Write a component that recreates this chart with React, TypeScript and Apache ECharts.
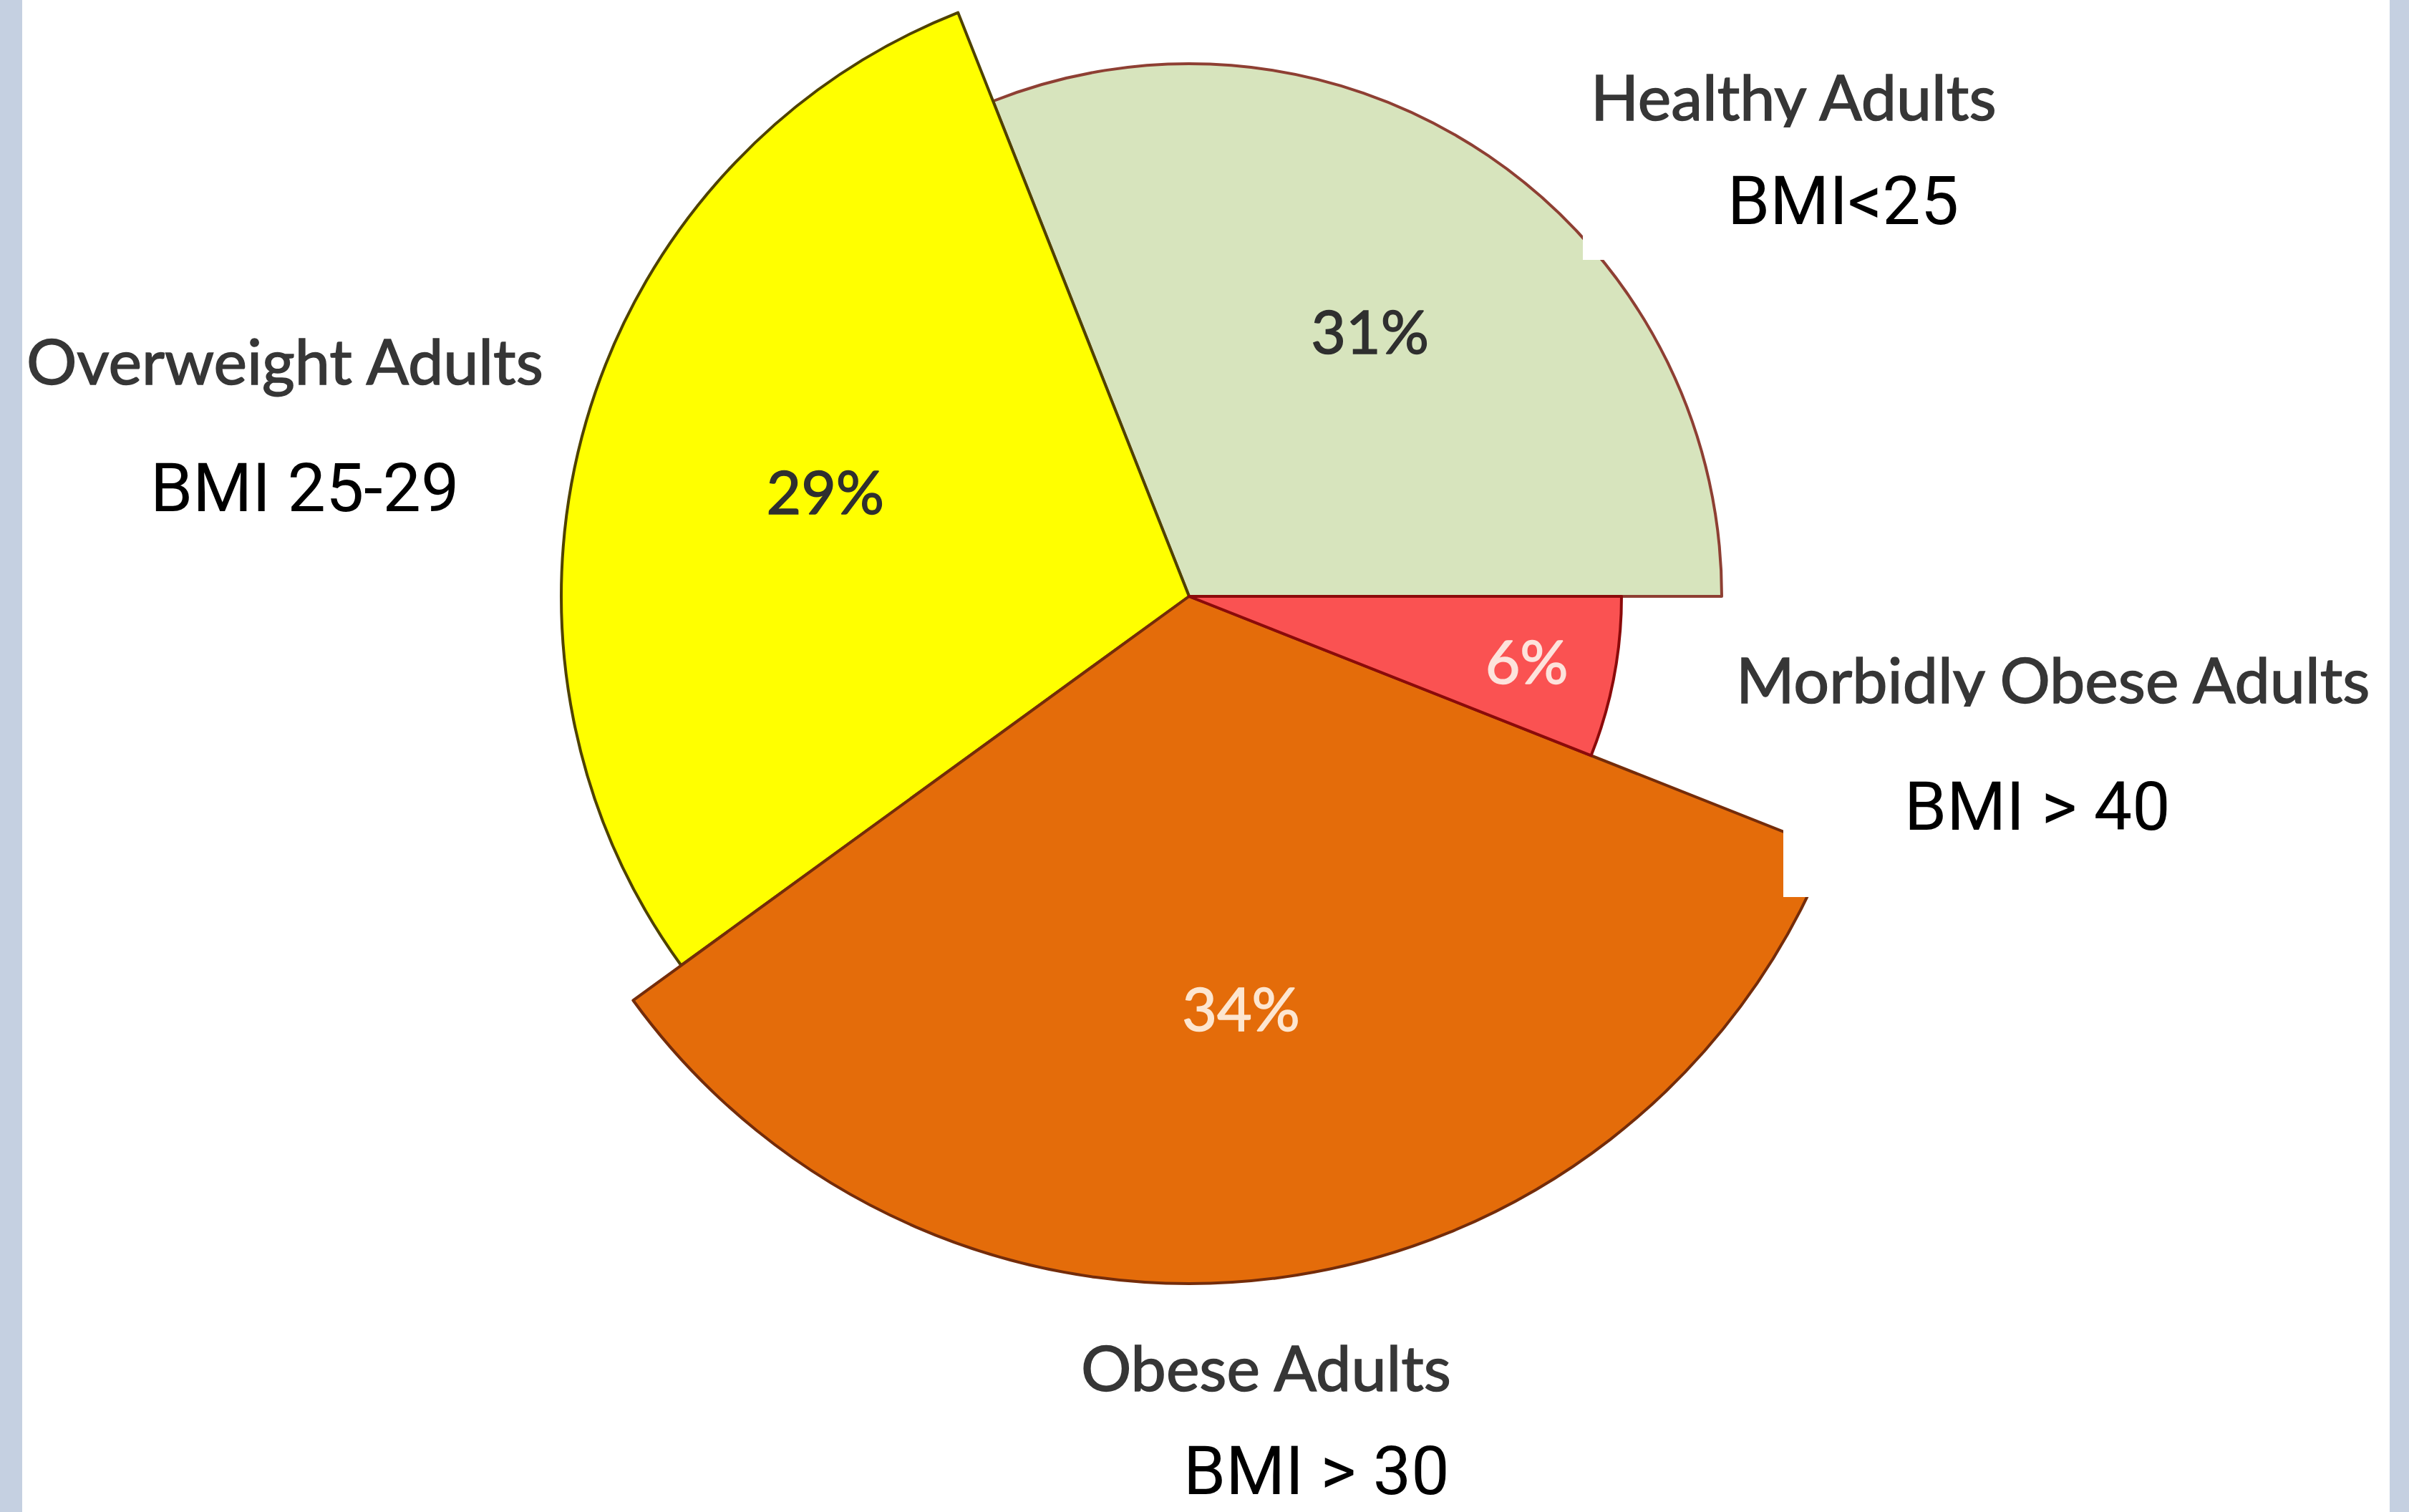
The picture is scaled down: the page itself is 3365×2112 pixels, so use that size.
import React, { useEffect, useRef } from "react";
import * as echarts from "echarts";

// Adult BMI groups and their share of the population (%)
const categories = ["Healthy Adults", "Overweight Adults", "Obese Adults", "Morbidly Obese Adults"];
const bmiRanges = ["BMI<25", "BMI 25-29", "BMI > 30", "BMI > 40"];
const shares = [31, 29, 34, 6];

// Per-slice styling, same order as categories
const sliceColors = ["#d7e4bd", "#ffff00", "#e46c0a", "#fa5252"];
const sliceBorders = ["#8e3f33", "#4f4200", "#742c0a", "#8b0a0a"];
const sliceRadii = [744, 877, 960, 604];
const labelRadiusRatio = [0.6, 0.6, 0.6, 0.79];
const pctColors = ["#2f2f2f", "#2f2f2f", "#fde6d0", "#fde3dc"];

// Where the category names and BMI ranges sit on the page
const namePos = [
  [2222, 134],
  [37, 503],
  [1510, 1909],
  [2425, 948],
];
const rangePos = [
  [2413, 280],
  [210, 681],
  [1653, 2054],
  [2660, 1126],
];

const W = 3365;
const H = 2112;
const CENTER = [1661, 833];
const TRANSPARENT = "rgba(0,0,0,0)";

function sliceSeries(k: number) {
  return {
    type: "pie",
    center: CENTER,
    radius: sliceRadii[k],
    startAngle: 0,
    clockwise: false,
    avoidLabelOverlap: false,
    silent: true,
    z: 2 + k,
    label: { show: false },
    labelLine: { show: false },
    emphasis: { disabled: true },
    data: categories.map((name, i) => ({
      name,
      value: shares[i],
      itemStyle:
        i === k
          ? { color: sliceColors[i], borderColor: sliceBorders[i], borderWidth: 4 }
          : { color: TRANSPARENT, borderWidth: 0 },
    })),
  };
}

// Invisible companion pie whose inside-label midpoint lands where the percentage sits
function labelSeries(k: number) {
  return {
    type: "pie",
    center: CENTER,
    radius: sliceRadii[k] * labelRadiusRatio[k] * 2,
    startAngle: 0,
    clockwise: false,
    avoidLabelOverlap: false,
    silent: true,
    z: 10,
    labelLine: { show: false },
    emphasis: { disabled: true },
    label: { show: false },
    data: categories.map((name, i) => ({
      name,
      value: shares[i],
      itemStyle: { color: TRANSPARENT, borderWidth: 0 },
      label:
        i === k
          ? {
              show: true,
              position: "inside",
              formatter: "{c}%",
              color: pctColors[i],
              textBorderColor: pctColors[i],
              textBorderWidth: 1.5,
              fontFamily: "Lato",
              fontSize: 84,
            }
          : { show: false },
    })),
  };
}

export default function App() {
  const ref = useRef<HTMLDivElement>(null);

  useEffect(() => {
    if (!ref.current) return;
    const chart = echarts.init(ref.current, undefined, { renderer: "svg" });

    const nameTexts = categories.map((name, i) => ({
      type: "text",
      z: 5,
      x: namePos[i][0],
      y: namePos[i][1],
      style: {
        text: name,
        fill: "#363636",
        stroke: "#363636",
        lineWidth: 1.5,
        font: "88px Lato",
        textAlign: "left",
        textVerticalAlign: "middle",
      },
    }));

    const rangeTexts = bmiRanges.map((r, i) => ({
      type: "text",
      z: 30,
      x: rangePos[i][0],
      y: rangePos[i][1],
      style: {
        text: r,
        fill: "#000000",
        font: "95px Roboto",
        textAlign: "left",
        textVerticalAlign: "middle",
      },
    }));

    chart.setOption({
      animation: false,
      backgroundColor: "#ffffff",
      series: [0, 1, 2, 3].map(sliceSeries).concat([0, 1, 2, 3].map(labelSeries) as any),
      graphic: {
        elements: [
          // side margins
          { type: "rect", z: 40, shape: { x: 0, y: 0, width: 31, height: H }, style: { fill: "#c5d0e1" } },
          { type: "rect", z: 40, shape: { x: 3338, y: 0, width: W - 3338, height: H }, style: { fill: "#c5d0e1" } },
          ...nameTexts,
          // white panels behind the BMI captions
          { type: "rect", z: 20, shape: { x: 2211, y: 178, width: 800, height: 185 }, style: { fill: "#ffffff" } },
          { type: "rect", z: 20, shape: { x: 2491, y: 987, width: 840, height: 266 }, style: { fill: "#ffffff" } },
          ...rangeTexts,
        ],
      },
    });

    return () => chart.dispose();
  }, []);

  return (
    <div
      ref={ref}
      style={{ position: "fixed", left: 0, top: 0, width: W, height: H, background: "#fff" }}
    />
  );
}
